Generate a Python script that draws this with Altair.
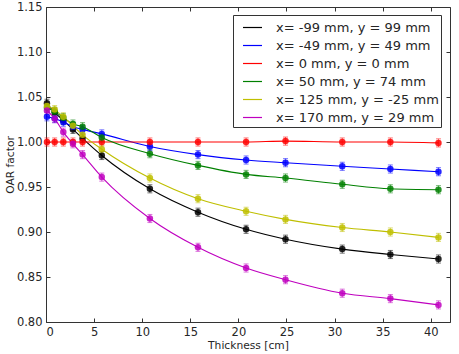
import altair as alt
import pandas as pd

# Measurement depths (cm of added material)
thickness = [0.1, 0.9, 1.8, 2.8, 3.8, 5.8, 10.8, 15.8, 20.8, 24.9, 30.8, 35.8, 40.8]

positions = [
    "x= -99 mm, y = 99 mm",
    "x= -49 mm, y = 49 mm",
    "x= 0 mm, y = 0 mm",
    "x= 50 mm, y = 74 mm",
    "x= 125 mm, y = -25 mm",
    "x= 170 mm, y = 29 mm",
]
colors = ["#000000", "#0000ff", "#ff0000", "#008000", "#bfbf00", "#bf00bf"]

oar_m99_99 = [1.043, 1.033, 1.024, 1.014, 1.004, 0.985, 0.948, 0.922, 0.903, 0.892, 0.881, 0.875, 0.870]
oar_m49_49 = [1.028, 1.026, 1.022, 1.017, 1.014, 1.009, 0.995, 0.986, 0.980, 0.977, 0.973, 0.970, 0.967]
oar_0_0 = [1.000, 1.000, 1.000, 1.000, 1.000, 1.000, 1.000, 1.000, 1.000, 1.001, 1.000, 1.000, 0.999]
oar_50_74 = [1.038, 1.034, 1.027, 1.020, 1.017, 1.005, 0.987, 0.974, 0.964, 0.960, 0.953, 0.948, 0.947]
oar_125_m25 = [1.040, 1.036, 1.028, 1.018, 1.008, 0.992, 0.960, 0.937, 0.923, 0.914, 0.905, 0.900, 0.894]
oar_170_29 = [1.035, 1.026, 1.011, 0.998, 0.986, 0.961, 0.915, 0.883, 0.860, 0.847, 0.832, 0.826, 0.819]

# One-sigma uncertainty on each measurement
sigma = [0.0045, 0.0045, 0.0045, 0.0045, 0.0045, 0.0045, 0.0045, 0.0045, 0.0045, 0.0045, 0.0045, 0.0045, 0.0045]

series = [oar_m99_99, oar_m49_49, oar_0_0, oar_50_74, oar_125_m25, oar_170_29]

rows = []
for label, values in zip(positions, series):
    for t, v, s in zip(thickness, values, sigma):
        rows.append({"thickness": t, "oar": v, "lo": v - s, "hi": v + s, "position": label})
df = pd.DataFrame(rows)

FONT = "DejaVu Sans"
TEXT = "#262626"

xscale = alt.Scale(domain=[0, 42], nice=False)
yscale = alt.Scale(domain=[0.80, 1.15], nice=False, zero=False)
xticks = [0, 5, 10, 15, 20, 25, 30, 35, 40]
yticks = [0.80, 0.85, 0.90, 0.95, 1.00, 1.05, 1.10, 1.15]

tick_style = dict(domain=False, grid=False, tickSize=4, tickColor="#333333", offset=-4)

x_bottom = alt.X(
    "thickness:Q", scale=xscale,
    axis=alt.Axis(
        orient="bottom", values=xticks, title="Thickness [cm]", labelPadding=4,
        labelFont=FONT, labelFontSize=11.5, labelColor=TEXT,
        titleFont=FONT, titleFontSize=10.7, titleColor=TEXT, titleFontWeight="normal",
        titleX=202, titleY=27, titleBaseline="middle", titleAlign="center",
        **tick_style,
    ),
)
y_left = alt.Y(
    "oar:Q", scale=yscale,
    axis=alt.Axis(
        orient="left", values=yticks, format=".2f", title="OAR factor", labelPadding=4,
        labelFont=FONT, labelFontSize=11.5, labelColor=TEXT,
        titleFont=FONT, titleFontSize=10.7, titleColor=TEXT, titleFontWeight="normal",
        titleX=-40, titleY=157.5, titleAngle=270, titleBaseline="middle", titleAlign="center",
        **tick_style,
    ),
)
x_top = alt.X("thickness:Q", scale=xscale,
              axis=alt.Axis(orient="top", values=xticks, labels=False, title=None, **tick_style))
y_right = alt.Y("oar:Q", scale=yscale,
                axis=alt.Axis(orient="right", values=yticks, labels=False, title=None, **tick_style))

x_plain = alt.X("thickness:Q", scale=xscale, axis=None)

color_legend = alt.Color(
    "position:N",
    scale=alt.Scale(domain=positions, range=colors),
    sort=positions,
    legend=alt.Legend(
        title=None, orient="none", legendX=187, legendY=8,
        symbolType="stroke", symbolSize=361, symbolStrokeWidth=1.2,
        labelFont=FONT, labelFontSize=13, labelColor=TEXT, labelOffset=13, labelLimit=300,
        symbolOffset=7, rowPadding=0, padding=2,
        fillColor="white", strokeColor="#333333", cornerRadius=0,
    ),
)
color_plain = alt.Color("position:N", scale=alt.Scale(domain=positions, range=colors),
                        sort=positions, legend=None)

base = alt.Chart(df)

fits = base.mark_line(interpolate="monotone", strokeWidth=1.1).encode(
    x=x_bottom, y=y_left, color=color_legend, detail="position:N"
)

bars = base.mark_rule(strokeWidth=1, opacity=0.55).encode(
    x=x_plain, y=alt.Y("lo:Q", scale=yscale, axis=None), y2="hi:Q", color=color_plain
)
caps_lo = base.mark_tick(orient="horizontal", size=5, thickness=1, opacity=0.55).encode(
    x=x_plain, y=alt.Y("lo:Q", scale=yscale, axis=None), color=color_plain
)
caps_hi = base.mark_tick(orient="horizontal", size=5, thickness=1, opacity=0.55).encode(
    x=x_plain, y=alt.Y("hi:Q", scale=yscale, axis=None), color=color_plain
)

points = base.mark_point(filled=True, size=42, opacity=0.85, strokeWidth=0.8).encode(
    x=x_top, y=y_right, color=color_plain
)

chart = (
    alt.layer(fits, bars, caps_lo, caps_hi, points)
    .resolve_axis(x="independent", y="independent")
    .properties(
        width=404, height=315,
        autosize=alt.AutoSizeParams(type="none"),
        padding={"left": 46, "top": 7, "right": 9, "bottom": 32},
        background="white",
    )
    .configure_view(stroke="#333333", strokeWidth=1)
)

chart.save("out.html", embed_options={"renderer": "svg", "actions": False})
